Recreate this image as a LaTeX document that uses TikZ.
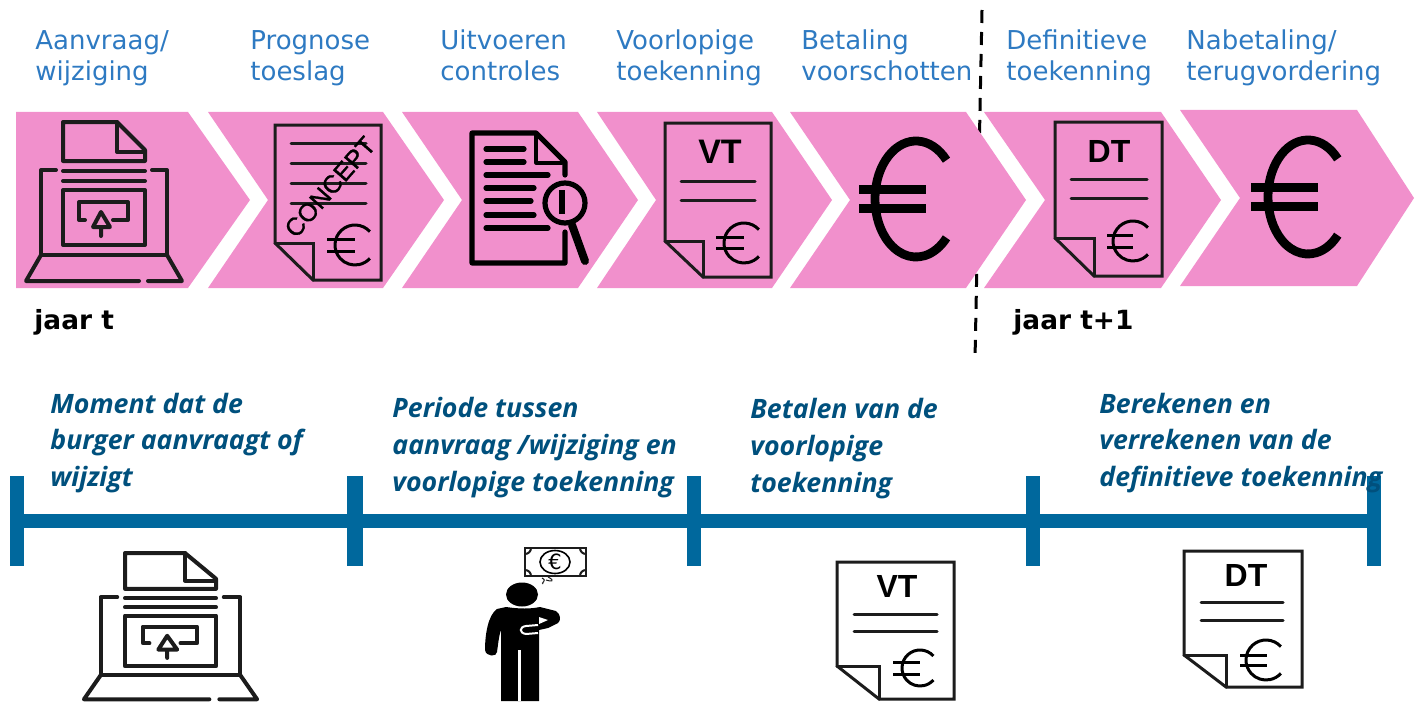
\documentclass[tikz,border=0pt]{standalone}
\usepackage{fontspec}
\setmainfont{DejaVu Sans}
\newfontfamily\descfont{Open Sans}
\newfontfamily\arialfont{Liberation Sans}
\newfontfamily\conceptfont[FakeBold=1.2]{Liberation Sans}
\definecolor{chevpink}{RGB}{241,144,204}
\definecolor{toplabel}{RGB}{46,122,194}
\definecolor{bluebar}{RGB}{0,104,157}
\definecolor{desctext}{RGB}{0,80,125}
\definecolor{iconink}{RGB}{28,28,28}
\tikzset{
  chev/.style={fill=chevpink,draw=none},
  ink/.style={draw=iconink,line width=2pt,line join=round,line cap=round},
  thinink/.style={draw=iconink,line width=1.5pt,line join=miter,line cap=round},
  docline/.style={draw=iconink,line width=1.5pt,line cap=round},
  heavyink/.style={draw=black,line width=2.6pt,line cap=round,line join=round},
  steplabel/.style={anchor=base west,inner sep=0pt,text=toplabel,font=\fontsize{13}{15.5}\selectfont,align=left},
  yearlabel/.style={anchor=base west,inner sep=0pt,text=black,font=\fontsize{13.2}{14}\selectfont\bfseries},
  desclabel/.style={anchor=base west,inner sep=0pt,text=desctext,font=\descfont\fontsize{13.35}{18.3}\selectfont\bfseries\itshape,align=left},
  doclabel/.style={inner sep=0pt,text=black,font=\arialfont\fontsize{#1}{#1}\selectfont\bfseries},
  tick/.style={fill=bluebar,draw=none},
}
% left, top, right, bottom, fold x, fold y
\newcommand{\docshape}[6]{%
  \draw[thinink] (#1,#2) -- (#3,#2) -- (#3,#4) -- (#5,#4) -- (#1,#6) -- cycle;
  \draw[thinink] (#1,#6) -- (#5,#6) -- (#5,#4);
}
% cx, cy, rx, ry, bar left, bar right, dy, width(pt)
\newcommand{\euroicon}[8]{%
  \draw[draw=black,line width=#8pt,line cap=butt] ({#1+#3*cos(42)},{#2-#4*sin(42)}) arc[start angle=-42,end angle=-318,x radius=#3,y radius=#4];
  \draw[draw=black,line width=#8pt,line cap=butt] (#5,#2-#7) -- (#6,#2-#7) (#5,#2+#7) -- (#6,#2+#7);
}
\newcommand{\laptopicon}{%
  \draw[ink] (117,122) -- (63,122) -- (63,161) -- (145,161) -- (145,150) -- cycle;
  \draw[ink] (117,122) -- (117,152) -- (145,152);
  \draw[ink] (56,170) -- (41,170) -- (41,255) -- (167,255) -- (167,170) -- (152,170);
  \draw[ink] (63,171) -- (145,171) (63,181) -- (145,181);
  \draw[ink] (63,190) rectangle (145,245);
  \draw[ink] (85,220) -- (79,220) -- (79,202) -- (128,202) -- (128,220) -- (113,220);
  \draw[ink] (101,212) -- (93,227) -- (110,227) -- cycle (101,227) -- (101,236);
  \draw[ink] (139,281) -- (26,281) -- (41,255) (167,255) -- (182,281) -- (148,281);
}
\begin{document}
\begin{tikzpicture}[x=0.5pt,y=-0.5pt]
\useasboundingbox (0,0) rectangle (1417,701);
% year divider, behind the chevrons
\draw[black,line width=1.5pt,dash pattern=on 6.5pt off 4.5pt] (982,10) -- (975,359);
% chevrons
\fill[chev] (16,112) -- (188,112) -- (250,200) -- (188,288) -- (16,288) -- cycle;
\fill[chev] (208,112) -- (383,112) -- (444,200) -- (383,288) -- (208,288) -- (268,200) -- cycle;
\fill[chev] (402,112) -- (578,112) -- (638,200) -- (578,288) -- (402,288) -- (462,200) -- cycle;
\fill[chev] (597,112) -- (772,112) -- (832,200) -- (772,288) -- (597,288) -- (656,200) -- cycle;
\fill[chev] (790,112) -- (966,112) -- (1026,200) -- (966,288) -- (790,288) -- (850,200) -- cycle;
\fill[chev] (984,112) -- (1161,112) -- (1221,200) -- (1161,288) -- (984,288) -- (1045,200) -- cycle;
\fill[chev] (1180,110) -- (1357,110) -- (1414,198) -- (1357,286) -- (1180,286) -- (1240,198) -- cycle;
% step labels
\node[steplabel] (l1) at (35,50) {Aanvraag/};
\node[steplabel] (l1b) at (35,81) {wijziging};
\node[steplabel] (l2) at (250,50) {Prognose};
\node[steplabel] (l2b) at (250,81) {toeslag};
\node[steplabel] (l3) at (440,50) {Uitvoeren};
\node[steplabel] (l3b) at (440,81) {controles};
\node[steplabel] (l4) at (616,50) {Voorlopige};
\node[steplabel] (l4b) at (616,81) {toekenning};
\node[steplabel] (l5) at (801,50) {Betaling};
\node[steplabel] (l5b) at (801,81) {voorschotten};
\node[steplabel] (l6) at (1006,50) {Definitieve};
\node[steplabel] (l6b) at (1006,81) {toekenning};
\node[steplabel] (l7) at (1186,50) {Nabetaling/};
\node[steplabel] (l7b) at (1186,81) {terugvordering};
% years
\node[yearlabel] (y1) at (34,329) {jaar t};
\node[yearlabel] (y2) at (1013,329) {jaar t+1};
% icons on chevrons
\laptopicon
\docshape{275}{125}{381}{280}{313}{243}
\draw[docline] (291,143) -- (366,143) (291,163) -- (366,163) (291,183) -- (366,183) (291,203) -- (366,203);
\euroicon{355}{245}{20}{20}{327}{355}{6}{1.5}
\node[rotate=49,inner sep=0pt,text=black,font=\conceptfont\fontsize{12.6}{12.6}\selectfont] (concept) at (330,187) {CONCEPT};
% magnifier document
\draw[heavyink] (565,175) -- (565,162) -- (536,133) -- (472,133) -- (472,263) -- (565,263) -- (565,232);
\draw[ink,draw=black,line width=1.6pt] (536,133) -- (536,163) -- (562,163);
\draw[heavyink] (486,149) -- (524,149) (486,162) -- (524,162) (486,175) -- (548,175) (486,188) -- (534,188) (486,201) -- (531,201) (486,215) -- (534,215) (486,228) -- (548,228);
\draw[draw=black,line width=2.6pt] (565,203) circle[radius=20];
\draw[draw=black,line width=3.2pt] (562,190) -- (562,214);
\draw[draw=black,line width=4pt,line cap=round] (572,225) -- (585,261);
% VT
\docshape{665}{123}{771}{277}{703}{241}
\node[doclabel=17] (vt) at (720,152) {VT};
\draw[docline] (681,181) -- (755,181) (681,200) -- (755,200);
\euroicon{744}{243}{20}{20}{716}{744}{5.5}{1.5}
% big euro 1
\euroicon{916}{199}{41}{58}{859}{926}{9.5}{4.4}
% DT
\docshape{1055}{122}{1162}{276}{1094}{238}
\node[doclabel=16] (dt) at (1109,151) {DT};
\draw[docline] (1071,179) -- (1147,179) (1071,198) -- (1147,198);
\euroicon{1133}{241}{20}{20}{1107}{1133}{6}{1.5}
% big euro 2
\euroicon{1308}{197}{40}{57}{1251}{1318}{9.5}{4.4}
% timeline
\fill[tick] (10,514) rectangle (1381,528);
\fill[tick] (10,476) rectangle (24,566);
\fill[tick] (347,476) rectangle (363,566);
\fill[tick] (687,476) rectangle (701,566);
\fill[tick] (1026,476) rectangle (1040,566);
\fill[tick] (1367,476) rectangle (1381,566);
% descriptions
\node[desclabel] (d1) at (50,413) {Moment dat de};
\node[desclabel] (d1b) at (50,449) {burger aanvraagt of};
\node[desclabel] (d1c) at (50,486) {wijzigt};
\node[desclabel] (d2) at (392,417) {Periode tussen};
\node[desclabel] (d2b) at (392,454) {aanvraag /wijziging en};
\node[desclabel] (d2c) at (392,491) {voorlopige toekenning};
\node[desclabel] (d3) at (750,418) {Betalen van de};
\node[desclabel] (d3b) at (750,455) {voorlopige};
\node[desclabel] (d3c) at (750,492) {toekenning};
\node[desclabel] (d4) at (1099,413) {Berekenen en};
\node[desclabel] (d4b) at (1099,449) {verrekenen van de};
\node[desclabel] (d4c) at (1099,486) {definitieve toekenning};
% lower laptop
\begin{scope}[shift={(55.07,440.76)},xscale=1.11,yscale=0.92]
\laptopicon
\end{scope}
% man with banknote
\fill[black] (522,594.5) ellipse[x radius=16,y radius=12];
\fill[black] (506,607) .. controls (520,609) and (530,609) .. (540,607)
  -- (556,611) .. controls (561,614) and (561,621) .. (558,623)
  -- (548,628) -- (539,630) -- (539,701) -- (501,701) -- (501,630)
  .. controls (499,635) and (498,645) .. (497,652)
  .. controls (497,657) and (486,657) .. (485,650)
  .. controls (485,635) and (488,615) .. (497,609) -- cycle;
\draw[white,line width=1.5pt] (519.5,650) -- (519.5,701);
\draw[white,line width=1pt] (538,625) -- (526,626) .. controls (519,627) and (519,633) .. (526,634) -- (538,633);
\fill[white] (539,617) -- (548,620) -- (539,624) -- cycle;
\draw[draw=iconink,line width=0.7pt,fill=white] (525,548) rectangle (586,576);
\draw[draw=iconink,line width=1pt] (531,548) arc[start angle=0,end angle=90,radius=6]
  (580,548) arc[start angle=180,end angle=90,radius=6]
  (531,576) arc[start angle=0,end angle=-90,radius=6]
  (580,576) arc[start angle=180,end angle=270,radius=6];
\draw[draw=black,line width=0.8pt] (555,562) ellipse[x radius=15,y radius=11.5];
\node[inner sep=0pt,text=black,font=\fontsize{10.5}{10.5}\selectfont] (banknote) at (555,562) {€};
\draw[draw=iconink,line width=0.5pt] (542,578) .. controls (548,581) and (540,583) .. (543,584);
\draw[draw=iconink,line width=0.5pt] (548,577) .. controls (556,581) and (551,582) .. (546,580);
% lower VT
\docshape{837}{562}{954}{699}{879}{666}
\node[doclabel=16] (vt2) at (897,586) {VT};
\draw[docline] (854,614) -- (937,614) (854,631) -- (937,631);
\euroicon{920}{668}{18}{18}{893}{920}{6}{1.5}
% lower DT
\docshape{1184}{551}{1302}{687}{1226}{655}
\node[doclabel=16] (dt2) at (1246,575) {DT};
\draw[docline] (1201,602) -- (1283,602) (1201,620) -- (1283,620);
\euroicon{1266}{660}{20}{20}{1240}{1267}{5}{1.5}
\end{tikzpicture}
\end{document}
